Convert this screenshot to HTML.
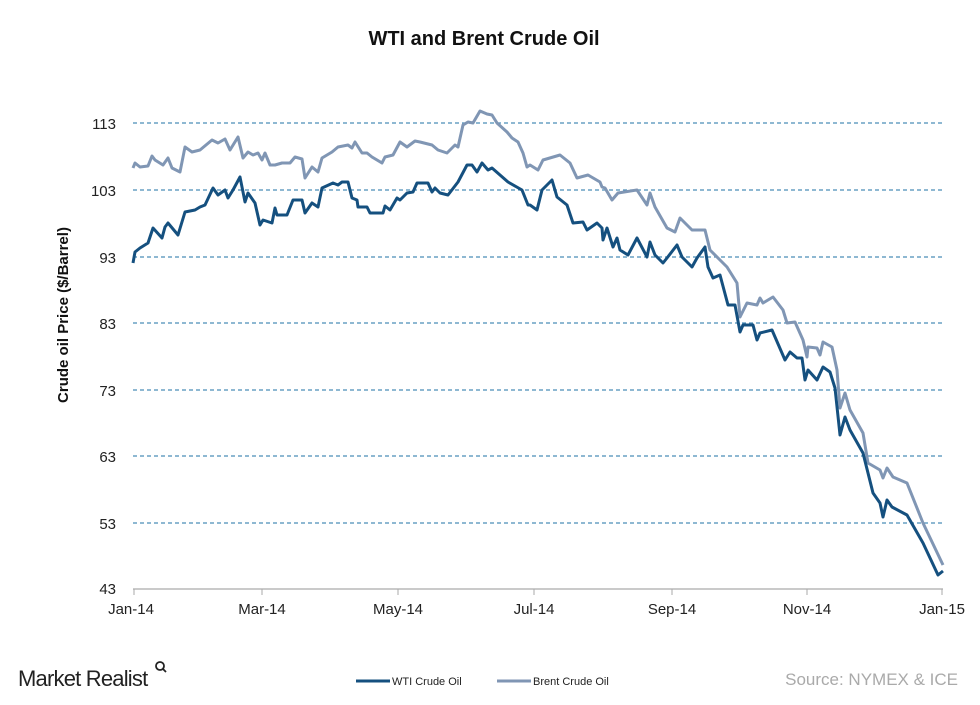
<!DOCTYPE html>
<html><head><meta charset="utf-8"><style>
body{margin:0;background:#fff;width:980px;height:700px;overflow:hidden;font-family:"Liberation Sans",Arial,sans-serif}
</style></head><body>
<svg width="980" height="700" xmlns="http://www.w3.org/2000/svg" font-family="Liberation Sans, Arial, sans-serif">
<text x="484" y="45" text-anchor="middle" font-size="20" font-weight="bold" fill="#111">WTI and Brent Crude Oil</text>
<g stroke="#4a8db8" stroke-width="1.3" stroke-dasharray="4,3">
<line x1="133" y1="123" x2="945" y2="123"/><line x1="133" y1="190" x2="945" y2="190"/>
<line x1="133" y1="257" x2="945" y2="257"/><line x1="133" y1="323" x2="945" y2="323"/>
<line x1="133" y1="390" x2="945" y2="390"/><line x1="133" y1="456" x2="945" y2="456"/>
<line x1="133" y1="523" x2="945" y2="523"/>
</g>
<line x1="133" y1="589" x2="943" y2="589" stroke="#aaa" stroke-width="1.2"/>
<g stroke="#aaa" stroke-width="1"><line x1="134" y1="589" x2="134" y2="595"/><line x1="262" y1="589" x2="262" y2="595"/><line x1="398" y1="589" x2="398" y2="595"/><line x1="534" y1="589" x2="534" y2="595"/><line x1="672" y1="589" x2="672" y2="595"/><line x1="807" y1="589" x2="807" y2="595"/><line x1="942" y1="589" x2="942" y2="595"/></g>
<g font-size="15" fill="#222" text-anchor="end">
<text x="116" y="129">113</text><text x="116" y="196">103</text><text x="116" y="263">93</text><text x="116" y="329">83</text><text x="116" y="396">73</text><text x="116" y="462">63</text><text x="116" y="529">53</text><text x="116" y="594">43</text>
</g>
<g font-size="15" fill="#222" text-anchor="middle">
<text x="131" y="614">Jan-14</text><text x="262" y="614">Mar-14</text><text x="398" y="614">May-14</text><text x="534" y="614">Jul-14</text><text x="672" y="614">Sep-14</text><text x="807" y="614">Nov-14</text><text x="942" y="614">Jan-15</text>
</g>
<text transform="translate(68,315) rotate(-90)" text-anchor="middle" font-size="15" font-weight="bold" fill="#111">Crude oil Price ($/Barrel)</text>
<polyline fill="none" stroke="#8096b4" stroke-width="3" stroke-linejoin="round" points="133,168 135,163 140,167 148,166 152,156 155,160 163,165 168,158 172,168 180,172 185,147 192,152 200,150 212,140 218,143 225,139 230,150 238,137 243,158 248,152 253,155 258,153 262,160 265,153 270,165 275,165 282,163 290,163 295,157 302,159 305,178 312,167 318,172 322,158 332,152 338,147 348,145 352,148 355,142 362,153 367,153 372,157 382,163 385,157 393,155 400,142 407,147 415,141 420,142 432,145 438,150 447,153 455,145 458,147 463,125 468,122 473,123 480,111 487,114 492,115 497,123 507,132 512,138 518,142 523,153 527,167 530,165 538,170 543,160 560,155 570,163 577,178 588,175 600,182 602,187 605,188 612,200 618,193 637,190 647,205 650,193 655,207 667,228 675,232 680,218 692,230 705,230 710,250 720,260 727,267 737,283 740,317 747,303 757,305 760,298 763,303 773,297 783,310 787,323 795,322 803,340 807,357 808,347 817,348 820,355 823,342 832,347 837,370 840,408 845,393 850,410 863,433 868,463 880,470 883,478 887,468 893,477 907,483 923,523 943,565"/>
<polyline fill="none" stroke="#15507f" stroke-width="3" stroke-linejoin="round" points="133,263 135,252 140,248 148,243 153,228 162,238 165,227 168,223 178,235 185,212 195,210 200,207 205,205 213,188 218,195 225,190 228,198 233,190 240,177 245,202 248,193 255,203 260,225 263,220 272,223 275,208 277,215 287,215 293,200 302,200 305,213 312,203 318,207 322,188 333,183 338,185 342,182 348,182 352,198 357,200 358,207 367,207 370,213 383,213 385,206 390,210 397,198 400,200 407,193 413,192 417,183 428,183 432,192 435,188 440,193 448,195 458,182 467,165 472,165 477,172 482,163 488,170 492,168 508,182 522,190 528,205 530,205 537,210 542,190 552,180 557,197 567,205 573,223 583,222 587,230 597,223 602,228 603,240 607,228 613,247 617,238 620,250 628,255 637,238 647,257 650,242 655,255 663,263 667,258 677,245 682,257 692,267 697,258 705,247 708,267 713,278 720,275 728,305 735,305 740,332 743,325 753,325 757,340 760,333 772,330 785,360 790,352 797,358 802,358 805,380 808,370 817,380 823,367 830,372 835,388 840,435 845,417 850,430 863,453 868,473 873,493 880,503 883,517 887,500 892,507 907,515 923,543 938,575 943,571"/>
<text x="18" y="686" font-size="22" fill="#222" letter-spacing="-0.8">Market Realist</text>
<circle cx="160" cy="666" r="4" fill="none" stroke="#222" stroke-width="1.8"/><line x1="163" y1="669" x2="166" y2="672" stroke="#222" stroke-width="1.8"/>
<line x1="356" y1="681" x2="390" y2="681" stroke="#15507f" stroke-width="3"/>
<text x="392" y="685" font-size="11" fill="#222">WTI Crude Oil</text>
<line x1="497" y1="681" x2="531" y2="681" stroke="#8096b4" stroke-width="3"/>
<text x="533" y="685" font-size="11" fill="#222">Brent Crude Oil</text>
<text x="958" y="685" text-anchor="end" font-size="17" fill="#aaa">Source: NYMEX &amp; ICE</text>
</svg>
</body></html>
